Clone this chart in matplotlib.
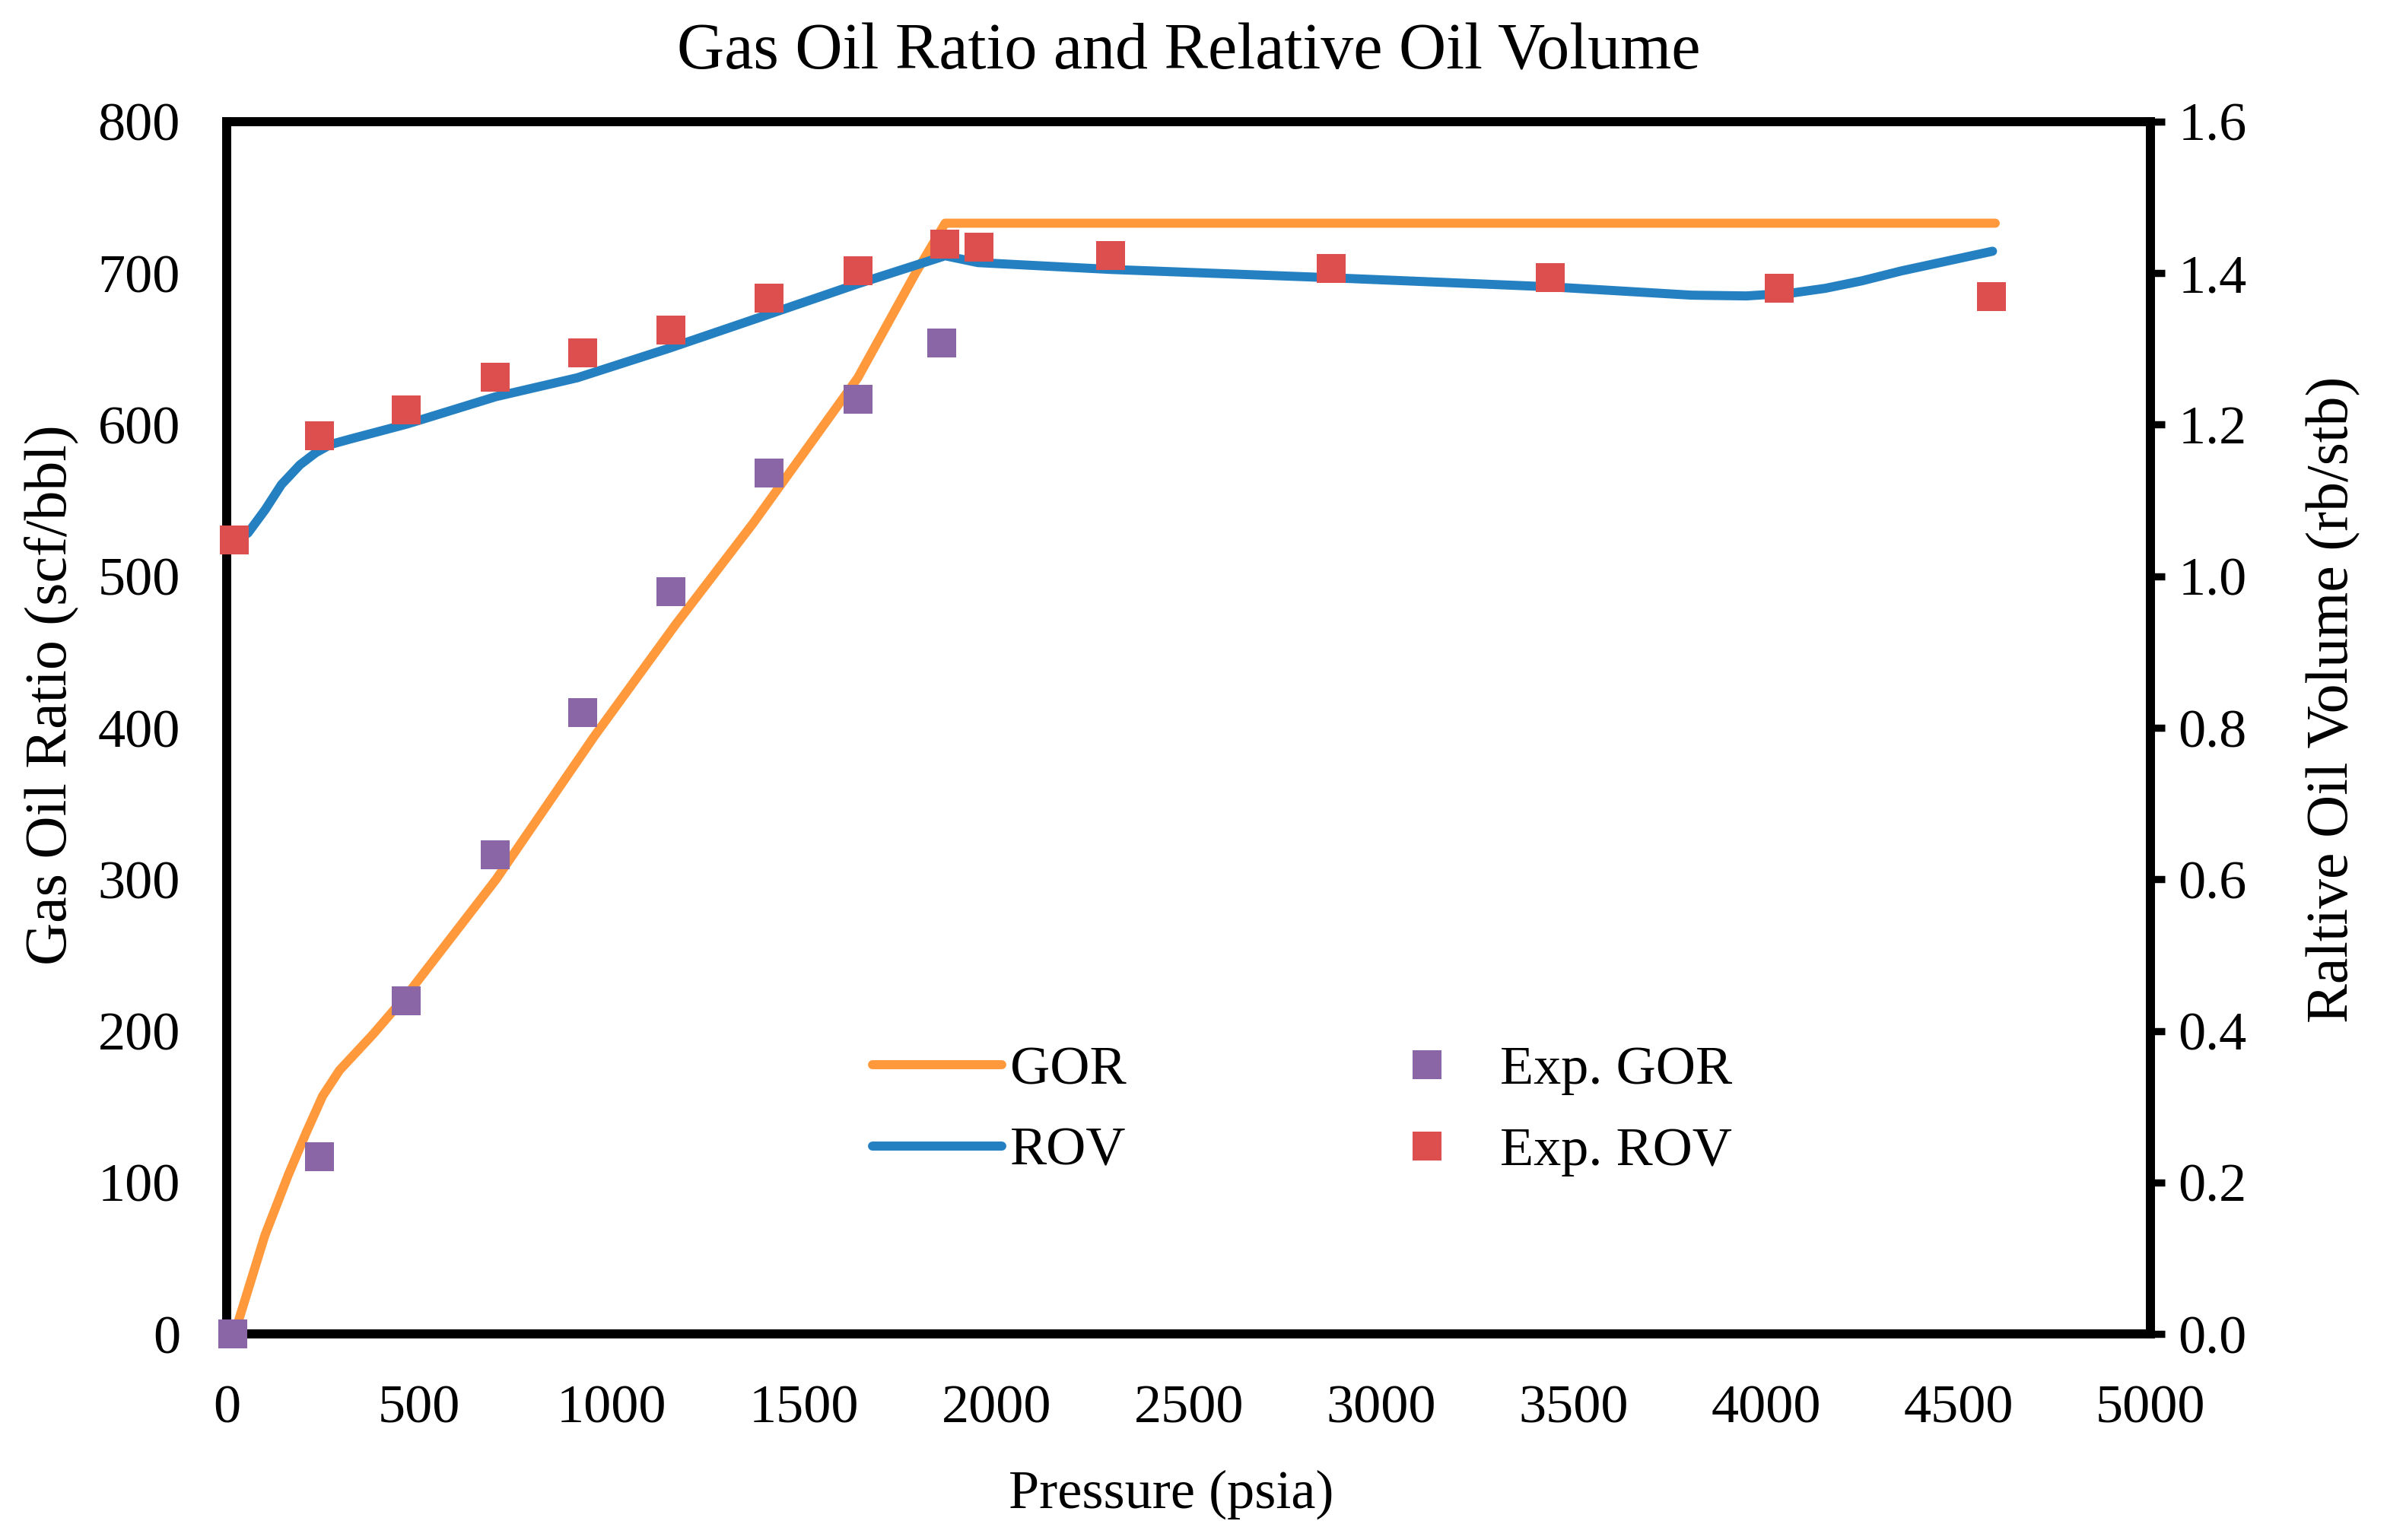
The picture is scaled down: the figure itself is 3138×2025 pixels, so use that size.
# Gas oil ratio and relative oil volume vs pressure, model lines and lab points
import matplotlib.pyplot as plt

plt.rcParams['font.family'] = ['Liberation Serif', 'DejaVu Serif']

# model GOR line (scf/bbl)
gor_p = [20, 99, 160, 205, 249, 293, 381, 469, 700, 954, 1166, 1368, 1640, 1790, 1867, 4596]
gor = [0, 65, 105, 132, 157, 174, 198, 224, 300, 394, 468, 535, 631, 700, 733, 733]

# model ROV line (rb/stb)
rov_p = [16, 55, 100, 142, 190, 231, 270, 320, 469, 699, 911, 1150, 1387, 1640, 1867, 1952,
         2296, 2870, 3440, 3807, 3950, 4070, 4154, 4250, 4352, 4589]
rov = [1.045, 1.057, 1.088, 1.121, 1.147, 1.163, 1.174, 1.181, 1.201, 1.237, 1.262, 1.301,
       1.342, 1.386, 1.423, 1.414, 1.405, 1.394, 1.382, 1.371, 1.370, 1.374, 1.380, 1.390,
       1.403, 1.429]

# experimental points
exp_gor_p = [16, 240, 467, 697, 925, 1154, 1410, 1640, 1858]
exp_gor = [0, 117, 220, 316, 410, 490, 568, 617, 654]

exp_rov_p = [20, 240, 467, 697, 925, 1154, 1410, 1640, 1866, 1954, 2296, 2870, 3440, 4035, 4587]
exp_rov = [1.048, 1.185, 1.220, 1.263, 1.295, 1.325, 1.367, 1.403, 1.438, 1.434,
           1.423, 1.406, 1.394, 1.380, 1.369]

x_ticks = list(range(0, 5001, 500))
gor_ticks = list(range(0, 801, 100))
rov_ticks = [0.0, 0.2, 0.4, 0.6, 0.8, 1.0, 1.2, 1.4, 1.6]

c_gor = '#FF993C'
c_rov = '#2580C1'
c_exp_gor = '#8A66A6'
c_exp_rov = '#DD4F4F'

fs = 26
lw = 4.3

f = plt.figure(figsize=(15.69, 10.125), dpi=200)
ax = f.add_axes([0.095, 0.1338, 0.806, 0.7872])
ax2 = ax.twinx()

l1, = ax.plot(gor_p, gor, color=c_gor, lw=lw, solid_capstyle='round', label='GOR', zorder=2)
s1, = ax.plot(exp_gor_p, exp_gor, 's', color=c_exp_gor, ms=14, mew=0, label='Exp. GOR',
              clip_on=False, zorder=3)
l2, = ax2.plot(rov_p, rov, color=c_rov, lw=lw, solid_capstyle='round', label='ROV', zorder=2)
s2, = ax2.plot(exp_rov_p, exp_rov, 's', color=c_exp_rov, ms=14, mew=0, label='Exp. ROV',
               clip_on=False, zorder=3)

ax.set_xlim(0, 5000)
ax.set_ylim(0, 800)
ax2.set_ylim(0, 1.6)
ax.set_xticks(x_ticks)
ax.set_yticks(gor_ticks)
ax2.set_yticks(rov_ticks)
ax2.set_yticklabels(['%.1f' % v for v in rov_ticks])

for s in ax.spines.values():
    s.set_linewidth(lw)
    s.set_color('black')
for name in ['left', 'bottom', 'top']:
    ax2.spines[name].set_visible(False)
ax2.spines['right'].set_linewidth(lw)

ax.tick_params(axis='x', length=0, labelsize=fs, pad=24)
ax.tick_params(axis='y', length=0, labelsize=fs, pad=22)
ax2.tick_params(axis='y', length=7, width=3.4, direction='out', labelsize=fs, pad=6)

ax.set_xlabel('Pressure (psia)', fontsize=fs, labelpad=17)
ax.set_ylabel('Gas Oil Ratio (scf/bbl)', fontsize=28, labelpad=9)
ax2.set_ylabel('Raltive Oil Volume (rb/stb)', fontsize=28, labelpad=28)
ax.xaxis.label.set_x(0.491)
ax.yaxis.label.set_y(0.527)
ax2.yaxis.label.set_y(0.523)
ax.set_title('Gas Oil Ratio and Relative Oil Volume', fontsize=31, pad=25)

ax2.legend([l1, l2, s1, s2], ['GOR', 'ROV', 'Exp. GOR', 'Exp. ROV'], ncol=2,
           loc='center', bbox_to_anchor=(0.559, 0.184), frameon=False, fontsize=fs,
           handlelength=2.35, handletextpad=0.15, columnspacing=4.3, labelspacing=0.57)

f.savefig('out.png', dpi=200)
